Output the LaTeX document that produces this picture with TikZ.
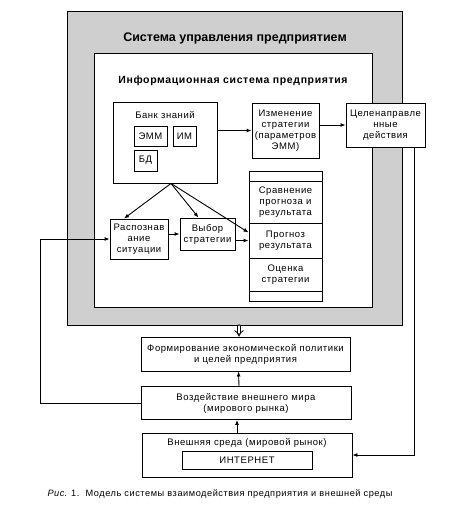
\documentclass[tikz,border=0pt]{standalone}
\usepackage{fontspec}
\setmainfont{Liberation Sans}
\newfontfamily\spaced[LetterSpace=6]{Liberation Sans}
\usetikzlibrary{arrows.meta,calc,positioning}
\tikzset{%
	blok/.style     = {draw, rectangle, line width=0.9pt, fill=white, inner sep=1pt, align=center, font=\spaced\fontsize{9.5}{11}\selectfont},
	field/.style    = {draw, rectangle, line width=0.9pt, fill=black!19},
	label/.style    = {inner sep=0pt, align=center, font=\spaced\fontsize{9.5}{11}\selectfont},
	title/.style    = {inner sep=0pt, font=\bfseries\fontsize{12.5}{14}\selectfont},
	arrow/.style    = {line width=0.9pt, -{Latex[length=5pt,width=4pt]}},
	dblarrow/.style = {double, double distance=2.5pt, line width=0.8pt, line cap=round, -{Implies[length=4pt]}},
}
\begin{document}
\begin{tikzpicture}[x=1pt,y=-1pt]
	\useasboundingbox (0,0) rectangle (462,507);
	\node[field, minimum width=335pt, minimum height=314pt] (sys) at (234.5,168) {};
	\node[title] (systitle) at (235,38) {Система управления предприятием};
	\node[blok, minimum width=278pt, minimum height=254pt] (info) at (233,180) {};
	\node[title, font=\bfseries\spaced\fontsize{10.5}{13}\selectfont] (infotitle) at (233,81) {Информационная система предприятия};
	
	\node[blok, minimum width=104pt, minimum height=81pt] (bank) at (165,142.5) {};
	\node[label] (banklbl) at (165,115) {Банк знаний};
	\node[blok, minimum width=33pt, minimum height=20pt] (emm) at (150.5,136) {ЭММ};
	\node[blok, minimum width=23pt, minimum height=20pt] (im) at (184.5,136) {ИМ};
	\node[blok, minimum width=23pt, minimum height=21pt] (bd) at (145.5,160.5) {БД};
	
	\node[blok, minimum width=67pt, minimum height=55pt] (change) at (285.5,130.5) {Изменение\\стратегии\\(параметров\\ЭММ)};
	\node[blok, minimum width=79pt, minimum height=44pt] (action) at (385.5,125) {Целенаправле\\нные\\действия};
	
	\node[blok, minimum width=58pt, minimum height=40pt] (recog) at (139,239) {Распознав\\ание\\ситуации};
	\node[blok, minimum width=55pt, minimum height=32pt] (choice) at (207.5,234) {Выбор\\стратегии};
	
	\node[blok, minimum width=73pt, minimum height=10pt] (stacktop) at (285.5,176) {};
	\node[blok, minimum width=73pt, minimum height=42pt] (compare) at (285.5,202) {Сравнение\\прогноза и\\результата};
	\node[blok, minimum width=73pt, minimum height=35pt] (forecast) at (285.5,240.5) {Прогноз\\результата};
	\node[blok, minimum width=73pt, minimum height=33pt] (assess) at (285.5,274.5) {Оценка\\стратегии};
	\node[blok, minimum width=73pt, minimum height=10pt] (stackbot) at (285.5,296) {};
	
	\node[blok, minimum width=209pt, minimum height=34pt] (form) at (245.5,354) {Формирование экономической политики\\и целей предприятия};
	\node[blok, minimum width=210pt, minimum height=33pt] (impact) at (246,403) {Воздействие внешнего мира\\(мирового рынка)};
	\node[blok, minimum width=210pt, minimum height=44pt] (env) at (247,455) {};
	\node[label] (envlbl) at (247,443) {Внешняя среда (мировой рынок)};
	\node[blok, minimum width=130pt, minimum height=18pt] (inet) at (247,460) {ИНТЕРНЕТ};
	
	\node[label, font=\spaced\fontsize{9.2}{11}\selectfont] (caption) at (220,494) {\textit{Рис}. 1.\ \ Модель системы взаимодействия предприятия и внешней среды};
	
	\coordinate (fork) at ([xshift=6pt]bank.south);
	\draw[arrow] (change.west -| bank.east) -- (change.west);
	\draw[arrow] (action.west -| change.east) -- (action.west);
	\draw[arrow] (fork) -- ([xshift=-15pt]recog.north);
	\draw[arrow] (fork) -- ([xshift=-9pt]choice.north);
	\draw[arrow] (fork) -- ([yshift=8pt]forecast.west);
	\draw[arrow] (choice.west -| recog.east) -- (choice.west);
	\draw[arrow] (forecast.west -| choice.east) -- (forecast.west);
	\draw[arrow] ([xshift=-11pt]action.south east) |- (env.east);
	\draw[arrow] (impact.west) -- ++(-100,0) |- (recog.west);
	\draw[arrow] ([xshift=-10pt]env.north) -- ([xshift=-9pt]impact.south);
	\draw[arrow] ([xshift=-7pt]impact.north) -- ([xshift=-7pt]form.south);
	\draw[dblarrow] ([xshift=4.5pt,yshift=-1pt]sys.south) -- ([xshift=-6.5pt]form.north);
\end{tikzpicture}
\end{document}
